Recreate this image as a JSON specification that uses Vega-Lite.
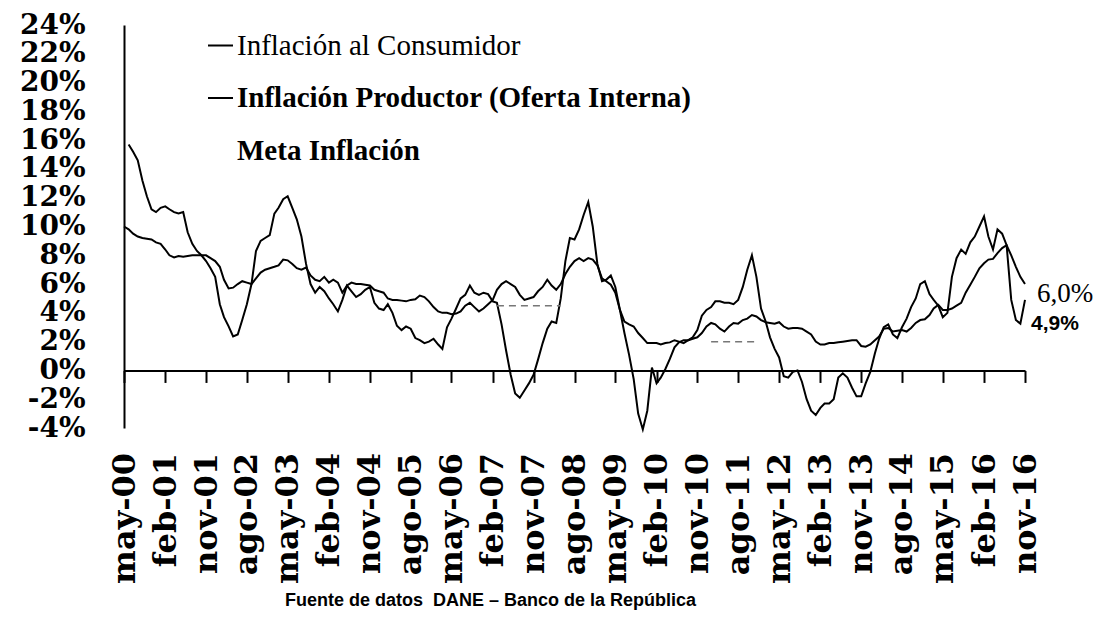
{
  "$schema": "https://vega.github.io/schema/vega-lite/v6.json",
  "width": 901,
  "height": 403,
  "autosize": {"type": "none"},
  "padding": {"left": 124, "top": 25, "right": 87, "bottom": 189},
  "background": "white",
  "config": {"view": {"stroke": null}, "axis": {"grid": false}},
  "resolve": {"axis": {"y": "independent"}},
  "datasets": {
    "inflacion": [
      {"fecha":"2000-05-01","consumidor":10.0},
      {"fecha":"2000-06-01","consumidor":9.8,"productor":15.7},
      {"fecha":"2000-07-01","consumidor":9.5,"productor":15.2},
      {"fecha":"2000-08-01","consumidor":9.3,"productor":14.6},
      {"fecha":"2000-09-01","consumidor":9.2,"productor":13.2},
      {"fecha":"2000-10-01","consumidor":9.15,"productor":12.1},
      {"fecha":"2000-11-01","consumidor":9.1,"productor":11.2},
      {"fecha":"2000-12-01","consumidor":8.9,"productor":11.0},
      {"fecha":"2001-01-01","consumidor":8.8,"productor":11.3},
      {"fecha":"2001-02-01","consumidor":8.4,"productor":11.4},
      {"fecha":"2001-03-01","consumidor":8.0,"productor":11.2},
      {"fecha":"2001-04-01","consumidor":7.85,"productor":11.0},
      {"fecha":"2001-05-01","consumidor":7.95,"productor":10.9},
      {"fecha":"2001-06-01","consumidor":7.9,"productor":11.0},
      {"fecha":"2001-07-01","consumidor":7.95,"productor":9.6},
      {"fecha":"2001-08-01","consumidor":8.0,"productor":8.8},
      {"fecha":"2001-09-01","consumidor":8.0,"productor":8.3},
      {"fecha":"2001-10-01","consumidor":8.0,"productor":8.0},
      {"fecha":"2001-11-01","consumidor":8.0,"productor":7.6},
      {"fecha":"2001-12-01","consumidor":7.8,"productor":7.1},
      {"fecha":"2002-01-01","consumidor":7.6,"productor":6.5},
      {"fecha":"2002-02-01","consumidor":7.2,"productor":4.6},
      {"fecha":"2002-03-01","consumidor":6.3,"productor":3.7},
      {"fecha":"2002-04-01","consumidor":5.7,"productor":3.06},
      {"fecha":"2002-05-01","consumidor":5.75,"productor":2.36},
      {"fecha":"2002-06-01","consumidor":6.0,"productor":2.5},
      {"fecha":"2002-07-01","consumidor":6.2,"productor":3.5},
      {"fecha":"2002-08-01","consumidor":6.1,"productor":4.6},
      {"fecha":"2002-09-01","consumidor":6.0,"productor":6.0},
      {"fecha":"2002-10-01","consumidor":6.4,"productor":8.3},
      {"fecha":"2002-11-01","consumidor":6.8,"productor":9.0},
      {"fecha":"2002-12-01","consumidor":7.0,"productor":9.2},
      {"fecha":"2003-01-01","consumidor":7.1,"productor":9.4},
      {"fecha":"2003-02-01","consumidor":7.2,"productor":10.9},
      {"fecha":"2003-03-01","consumidor":7.3,"productor":11.3},
      {"fecha":"2003-04-01","consumidor":7.7,"productor":11.9},
      {"fecha":"2003-05-01","consumidor":7.65,"productor":12.1},
      {"fecha":"2003-06-01","consumidor":7.4,"productor":11.3},
      {"fecha":"2003-07-01","consumidor":7.1,"productor":10.5},
      {"fecha":"2003-08-01","consumidor":7.0,"productor":9.3},
      {"fecha":"2003-09-01","consumidor":7.15,"productor":7.4},
      {"fecha":"2003-10-01","consumidor":6.6,"productor":6.0},
      {"fecha":"2003-11-01","consumidor":6.3,"productor":5.4},
      {"fecha":"2003-12-01","consumidor":6.2,"productor":5.8},
      {"fecha":"2004-01-01","consumidor":6.5,"productor":5.5},
      {"fecha":"2004-02-01","consumidor":6.1,"productor":5.0},
      {"fecha":"2004-03-01","consumidor":6.3,"productor":4.6},
      {"fecha":"2004-04-01","consumidor":6.1,"productor":4.1},
      {"fecha":"2004-05-01","consumidor":5.4,"productor":4.9},
      {"fecha":"2004-06-01","consumidor":5.9,"productor":5.9},
      {"fecha":"2004-07-01","consumidor":6.1,"productor":5.5},
      {"fecha":"2004-08-01","consumidor":6.0,"productor":5.1},
      {"fecha":"2004-09-01","consumidor":6.0,"productor":5.3},
      {"fecha":"2004-10-01","consumidor":5.95,"productor":5.6},
      {"fecha":"2004-11-01","consumidor":5.9,"productor":5.8},
      {"fecha":"2004-12-01","consumidor":5.6,"productor":4.7},
      {"fecha":"2005-01-01","consumidor":5.5,"productor":4.3},
      {"fecha":"2005-02-01","consumidor":5.4,"productor":4.2},
      {"fecha":"2005-03-01","consumidor":5.0,"productor":4.6},
      {"fecha":"2005-04-01","consumidor":4.9,"productor":4.0},
      {"fecha":"2005-05-01","consumidor":4.9,"productor":3.1},
      {"fecha":"2005-06-01","consumidor":4.85,"productor":2.8},
      {"fecha":"2005-07-01","consumidor":4.8,"productor":3.05},
      {"fecha":"2005-08-01","consumidor":4.9,"productor":2.9},
      {"fecha":"2005-09-01","consumidor":4.95,"productor":2.25},
      {"fecha":"2005-10-01","consumidor":5.2,"productor":2.1},
      {"fecha":"2005-11-01","consumidor":5.1,"productor":1.9},
      {"fecha":"2005-12-01","consumidor":4.8,"productor":2.0},
      {"fecha":"2006-01-01","consumidor":4.4,"productor":2.2},
      {"fecha":"2006-02-01","consumidor":4.1,"productor":1.8},
      {"fecha":"2006-03-01","consumidor":4.0,"productor":1.5},
      {"fecha":"2006-04-01","consumidor":4.0,"productor":3.0},
      {"fecha":"2006-05-01","consumidor":3.9,"productor":3.6},
      {"fecha":"2006-06-01","consumidor":3.95,"productor":4.3},
      {"fecha":"2006-07-01","consumidor":4.1,"productor":5.0},
      {"fecha":"2006-08-01","consumidor":4.5,"productor":5.25},
      {"fecha":"2006-09-01","consumidor":4.7,"productor":5.9},
      {"fecha":"2006-10-01","consumidor":4.4,"productor":5.4},
      {"fecha":"2006-11-01","consumidor":4.1,"productor":5.25},
      {"fecha":"2006-12-01","consumidor":4.3,"productor":5.4},
      {"fecha":"2007-01-01","consumidor":4.6,"productor":5.3},
      {"fecha":"2007-02-01","consumidor":4.9,"productor":4.8},
      {"fecha":"2007-03-01","consumidor":5.6,"productor":4.7},
      {"fecha":"2007-04-01","consumidor":6.0,"productor":3.2},
      {"fecha":"2007-05-01","consumidor":6.2,"productor":1.4},
      {"fecha":"2007-06-01","consumidor":6.0,"productor":-0.3},
      {"fecha":"2007-07-01","consumidor":5.8,"productor":-1.6},
      {"fecha":"2007-08-01","consumidor":5.25,"productor":-1.9},
      {"fecha":"2007-09-01","consumidor":4.9,"productor":-1.4},
      {"fecha":"2007-10-01","consumidor":5.0,"productor":-0.9},
      {"fecha":"2007-11-01","consumidor":5.1,"productor":-0.3},
      {"fecha":"2007-12-01","consumidor":5.5,"productor":0.75},
      {"fecha":"2008-01-01","consumidor":5.8,"productor":1.9},
      {"fecha":"2008-02-01","consumidor":6.3,"productor":2.9},
      {"fecha":"2008-03-01","consumidor":5.9,"productor":3.4},
      {"fecha":"2008-04-01","consumidor":5.6,"productor":3.3},
      {"fecha":"2008-05-01","consumidor":6.0,"productor":5.0},
      {"fecha":"2008-06-01","consumidor":6.7,"productor":7.6},
      {"fecha":"2008-07-01","consumidor":7.2,"productor":9.2},
      {"fecha":"2008-08-01","consumidor":7.6,"productor":9.1},
      {"fecha":"2008-09-01","consumidor":7.8,"productor":9.8},
      {"fecha":"2008-10-01","consumidor":7.6,"productor":10.8},
      {"fecha":"2008-11-01","consumidor":7.8,"productor":11.7},
      {"fecha":"2008-12-01","consumidor":7.7,"productor":10.0},
      {"fecha":"2009-01-01","consumidor":7.3,"productor":7.4},
      {"fecha":"2009-02-01","consumidor":6.4,"productor":6.2},
      {"fecha":"2009-03-01","consumidor":6.2,"productor":6.3},
      {"fecha":"2009-04-01","consumidor":5.95,"productor":6.6},
      {"fecha":"2009-05-01","consumidor":5.4,"productor":5.8},
      {"fecha":"2009-06-01","consumidor":4.2,"productor":4.2},
      {"fecha":"2009-07-01","consumidor":3.4,"productor":2.6},
      {"fecha":"2009-08-01","consumidor":3.2,"productor":1.1},
      {"fecha":"2009-09-01","consumidor":3.05,"productor":-0.6},
      {"fecha":"2009-10-01","consumidor":2.6,"productor":-3.0},
      {"fecha":"2009-11-01","consumidor":2.25,"productor":-4.1},
      {"fecha":"2009-12-01","consumidor":1.9,"productor":-2.8},
      {"fecha":"2010-01-01","consumidor":1.9,"productor":0.2},
      {"fecha":"2010-02-01","consumidor":1.9,"productor":-0.9},
      {"fecha":"2010-03-01","consumidor":1.8,"productor":-0.5},
      {"fecha":"2010-04-01","consumidor":1.9,"productor":0.1},
      {"fecha":"2010-05-01","consumidor":1.95,"productor":0.8},
      {"fecha":"2010-06-01","consumidor":2.1,"productor":1.6},
      {"fecha":"2010-07-01","consumidor":2.0,"productor":1.95},
      {"fecha":"2010-08-01","consumidor":1.9,"productor":2.1},
      {"fecha":"2010-09-01","consumidor":2.1,"productor":2.1},
      {"fecha":"2010-10-01","consumidor":2.2,"productor":2.3},
      {"fecha":"2010-11-01","consumidor":2.3,"productor":2.8},
      {"fecha":"2010-12-01","consumidor":2.6,"productor":3.8},
      {"fecha":"2011-01-01","consumidor":3.05,"productor":4.2},
      {"fecha":"2011-02-01","consumidor":3.3,"productor":4.4},
      {"fecha":"2011-03-01","consumidor":3.2,"productor":4.8},
      {"fecha":"2011-04-01","consumidor":2.9,"productor":4.8},
      {"fecha":"2011-05-01","consumidor":2.7,"productor":4.7},
      {"fecha":"2011-06-01","consumidor":3.05,"productor":4.7},
      {"fecha":"2011-07-01","consumidor":3.3,"productor":4.6},
      {"fecha":"2011-08-01","consumidor":3.25,"productor":4.9},
      {"fecha":"2011-09-01","consumidor":3.5,"productor":5.8},
      {"fecha":"2011-10-01","consumidor":3.6,"productor":7.0},
      {"fecha":"2011-11-01","consumidor":3.85,"productor":8.0},
      {"fecha":"2011-12-01","consumidor":3.75,"productor":6.5},
      {"fecha":"2012-01-01","consumidor":3.5,"productor":4.3},
      {"fecha":"2012-02-01","consumidor":3.35,"productor":3.4},
      {"fecha":"2012-03-01","consumidor":3.3,"productor":2.3},
      {"fecha":"2012-04-01","consumidor":3.25,"productor":1.5},
      {"fecha":"2012-05-01","consumidor":3.35,"productor":0.9},
      {"fecha":"2012-06-01","consumidor":3.05,"productor":-0.4},
      {"fecha":"2012-07-01","consumidor":2.9,"productor":-0.5},
      {"fecha":"2012-08-01","consumidor":2.95,"productor":-0.1},
      {"fecha":"2012-09-01","consumidor":2.95,"productor":0.0},
      {"fecha":"2012-10-01","consumidor":2.9,"productor":-0.8},
      {"fecha":"2012-11-01","consumidor":2.7,"productor":-2.0},
      {"fecha":"2012-12-01","consumidor":2.5,"productor":-2.8},
      {"fecha":"2013-01-01","consumidor":2.0,"productor":-3.1},
      {"fecha":"2013-02-01","consumidor":1.8,"productor":-2.6},
      {"fecha":"2013-03-01","consumidor":1.8,"productor":-2.3},
      {"fecha":"2013-04-01","consumidor":1.9,"productor":-2.3},
      {"fecha":"2013-05-01","consumidor":1.9,"productor":-2.0},
      {"fecha":"2013-06-01","consumidor":1.95,"productor":-0.5},
      {"fecha":"2013-07-01","consumidor":2.0,"productor":-0.2},
      {"fecha":"2013-08-01","consumidor":2.05,"productor":-0.5},
      {"fecha":"2013-09-01","consumidor":2.1,"productor":-1.2},
      {"fecha":"2013-10-01","consumidor":2.1,"productor":-1.8},
      {"fecha":"2013-11-01","consumidor":1.7,"productor":-1.8},
      {"fecha":"2013-12-01","consumidor":1.65,"productor":-0.9},
      {"fecha":"2014-01-01","consumidor":1.8,"productor":-0.1},
      {"fecha":"2014-02-01","consumidor":2.1,"productor":1.2},
      {"fecha":"2014-03-01","consumidor":2.35,"productor":2.2},
      {"fecha":"2014-04-01","consumidor":2.9,"productor":3.0},
      {"fecha":"2014-05-01","consumidor":2.95,"productor":3.2},
      {"fecha":"2014-06-01","consumidor":2.7,"productor":2.5},
      {"fecha":"2014-07-01","consumidor":2.75,"productor":2.25},
      {"fecha":"2014-08-01","consumidor":2.8,"productor":3.0},
      {"fecha":"2014-09-01","consumidor":2.7,"productor":3.6},
      {"fecha":"2014-10-01","consumidor":2.95,"productor":4.4},
      {"fecha":"2014-11-01","consumidor":3.3,"productor":5.0},
      {"fecha":"2014-12-01","consumidor":3.5,"productor":6.0},
      {"fecha":"2015-01-01","consumidor":3.55,"productor":6.2},
      {"fecha":"2015-02-01","consumidor":3.85,"productor":5.3},
      {"fecha":"2015-03-01","consumidor":4.3,"productor":4.9},
      {"fecha":"2015-04-01","consumidor":4.55,"productor":4.5},
      {"fecha":"2015-05-01","consumidor":4.2,"productor":3.7},
      {"fecha":"2015-06-01","consumidor":4.2,"productor":4.0},
      {"fecha":"2015-07-01","consumidor":4.3,"productor":6.5},
      {"fecha":"2015-08-01","consumidor":4.5,"productor":7.8},
      {"fecha":"2015-09-01","consumidor":4.7,"productor":8.4},
      {"fecha":"2015-10-01","consumidor":5.4,"productor":8.1},
      {"fecha":"2015-11-01","consumidor":5.95,"productor":8.9},
      {"fecha":"2015-12-01","consumidor":6.5,"productor":9.3},
      {"fecha":"2016-01-01","consumidor":7.1,"productor":10.0},
      {"fecha":"2016-02-01","consumidor":7.45,"productor":10.7},
      {"fecha":"2016-03-01","consumidor":7.7,"productor":9.3},
      {"fecha":"2016-04-01","consumidor":7.75,"productor":8.4},
      {"fecha":"2016-05-01","consumidor":8.15,"productor":9.8},
      {"fecha":"2016-06-01","consumidor":8.5,"productor":9.5},
      {"fecha":"2016-07-01","consumidor":8.7,"productor":8.7},
      {"fecha":"2016-08-01","consumidor":8.0,"productor":4.9},
      {"fecha":"2016-09-01","consumidor":7.2,"productor":3.5},
      {"fecha":"2016-10-01","consumidor":6.5,"productor":3.25},
      {"fecha":"2016-11-01","consumidor":6.0,"productor":4.9}
    ],
    "meta": [
      {"fecha":"2007-03-01","valor":4.5,"tramo":"2007-2008"},
      {"fecha":"2008-05-01","valor":4.5,"tramo":"2007-2008"},
      {"fecha":"2011-02-01","valor":2.0,"tramo":"2011"},
      {"fecha":"2011-12-01","valor":2.0,"tramo":"2011"}
    ],
    "ultimos": [
      {"fecha":"2016-11-01","valor":6.0,"texto":"6,0%","serie":"consumidor"},
      {"fecha":"2016-11-01","valor":4.9,"texto":"4,9%","serie":"productor"}
    ]
  },
  "layer": [
    {
      "data": {"name": "inflacion"},
      "transform": [{"fold": ["consumidor", "productor"], "as": ["serie", "valor"]}],
      "mark": {"type": "line", "strokeWidth": 2},
      "encoding": {
        "x": {
          "field": "fecha", "type": "temporal",
          "scale": {"type": "utc", "domain": [{"year": 2000, "month": 5, "date": 1, "utc": true}, {"year": 2016, "month": 11, "date": 1, "utc": true}]},
          "axis": {
            "values": [
              {"year":2000,"month":5,"date":1,"utc":true},{"year":2001,"month":2,"date":1,"utc":true},{"year":2001,"month":11,"date":1,"utc":true},
              {"year":2002,"month":8,"date":1,"utc":true},{"year":2003,"month":5,"date":1,"utc":true},{"year":2004,"month":2,"date":1,"utc":true},
              {"year":2004,"month":11,"date":1,"utc":true},{"year":2005,"month":8,"date":1,"utc":true},{"year":2006,"month":5,"date":1,"utc":true},
              {"year":2007,"month":2,"date":1,"utc":true},{"year":2007,"month":11,"date":1,"utc":true},{"year":2008,"month":8,"date":1,"utc":true},
              {"year":2009,"month":5,"date":1,"utc":true},{"year":2010,"month":2,"date":1,"utc":true},{"year":2010,"month":11,"date":1,"utc":true},
              {"year":2011,"month":8,"date":1,"utc":true},{"year":2012,"month":5,"date":1,"utc":true},{"year":2013,"month":2,"date":1,"utc":true},
              {"year":2013,"month":11,"date":1,"utc":true},{"year":2014,"month":8,"date":1,"utc":true},{"year":2015,"month":5,"date":1,"utc":true},
              {"year":2016,"month":2,"date":1,"utc":true},{"year":2016,"month":11,"date":1,"utc":true}
            ],
            "labelExpr": "['ene','feb','mar','abr','may','jun','jul','ago','sep','oct','nov','dic'][utcmonth(datum.value)] + '-' + utcFormat(datum.value, '%y')",
            "offset": -57.57,
            "domainColor": "black", "domainWidth": 2,
            "tickColor": "black", "tickWidth": 2, "tickSize": 12,
            "labelAngle": -90, "labelAlign": "right", "labelBaseline": "middle",
            "labelPadding": 70,
            "labelFont": "DejaVu Serif", "labelFontWeight": "bold", "labelFontSize": 32, "labelColor": "black",
            "labelOverlap": false, "labelBound": false, "labelFlush": false,
            "title": "Fuente de datos\u00a0 DANE – Banco de la República",
            "titleFont": "Liberation Sans", "titleFontWeight": "bold", "titleFontSize": 18, "titleColor": "black",
            "titleX": 366, "titleY": 230, "titleAlign": "center", "titleBaseline": "middle"
          }
        },
        "y": {
          "field": "valor", "type": "quantitative",
          "scale": {"domain": [-4, 24], "nice": false, "zero": false},
          "axis": {
            "orient": "left",
            "values": [-4,0,4,8,12,16,20,24],
            "labelExpr": "datum.value + '%'",
            "title": null,
            "ticks": false,
            "domainColor": "black", "domainWidth": 2,
            "labelPadding": 39,
            "labelFont": "DejaVu Serif", "labelFontWeight": "bold", "labelFontSize": 28, "labelColor": "black",
            "labelOverlap": false, "labelBound": false, "labelFlush": false
          }
        },
        "color": {
          "field": "serie", "type": "nominal",
          "scale": {"domain": ["consumidor", "productor", "meta"], "range": ["#000000", "#000000", "#777777"]},
          "legend": {
            "title": null,
            "orient": "none", "legendX": 82, "legendY": 6,
            "direction": "vertical",
            "symbolType": "stroke", "symbolSize": 625, "symbolStrokeWidth": 2,
            "symbolOpacity": {"expr": "datum.value == 'meta' ? 0 : 1"},
            "labelExpr": "datum.value == 'consumidor' ? 'Inflación al Consumidor' : (datum.value == 'productor' ? 'Inflación Productor (Oferta Interna)' : 'Meta Inflación')",
            "labelFont": "Liberation Serif", "labelFontSize": 29, "labelColor": "black",
            "labelFontWeight": {"expr": "datum.value == 'consumidor' ? 'normal' : 'bold'"},
            "labelOffset": 2, "labelLimit": 700,
            "rowPadding": 22.5, "padding": 0
          }
        }
      }
    },
    {
      "data": {"name": "meta"},
      "mark": {"type": "line", "strokeWidth": 1.5, "strokeDash": [7, 5]},
      "encoding": {
        "x": {"field": "fecha", "type": "temporal"},
        "y": {
          "field": "valor", "type": "quantitative",
          "axis": {
            "orient": "left",
            "values": [-2,2,6,10,14,18,22],
            "labelExpr": "datum.value + '%'",
            "title": null,
            "ticks": false,
            "domain": false,
            "labelPadding": 39,
            "labelFont": "DejaVu Serif", "labelFontWeight": "bold", "labelFontSize": 28, "labelColor": "black",
            "labelOverlap": false, "labelBound": false, "labelFlush": false
          }
        },
        "color": {"datum": "meta"},
        "detail": {"field": "tramo"}
      }
    },
    {
      "data": {"name": "ultimos"},
      "transform": [{"filter": "datum.serie == 'consumidor'"}],
      "mark": {"type": "text", "align": "left", "baseline": "middle", "dx": 12, "dy": 10, "font": "Liberation Serif", "fontSize": 27, "color": "black"},
      "encoding": {
        "x": {"field": "fecha", "type": "temporal"},
        "y": {"field": "valor", "type": "quantitative", "axis": null},
        "text": {"field": "texto"}
      }
    },
    {
      "data": {"name": "ultimos"},
      "transform": [{"filter": "datum.serie == 'productor'"}],
      "mark": {"type": "text", "align": "left", "baseline": "middle", "dx": 6, "dy": 24, "font": "Liberation Sans", "fontWeight": "bold", "fontSize": 21, "color": "black"},
      "encoding": {
        "x": {"field": "fecha", "type": "temporal"},
        "y": {"field": "valor", "type": "quantitative", "axis": null},
        "text": {"field": "texto"}
      }
    }
  ]
}
